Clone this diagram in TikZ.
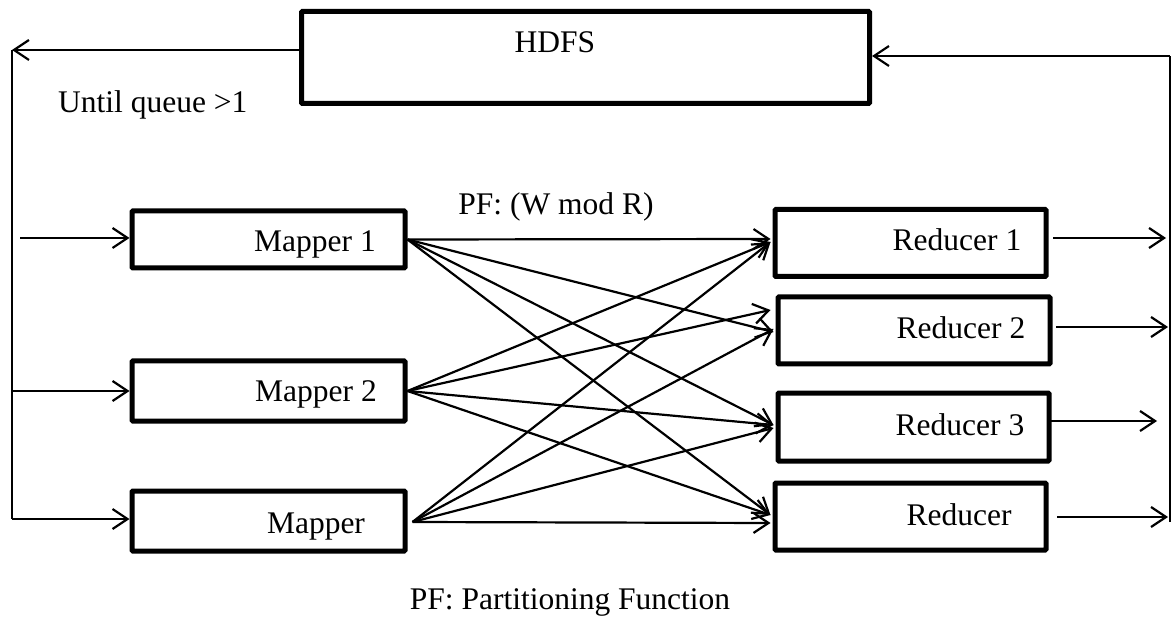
\documentclass[tikz,border=0pt]{standalone}
\usepackage{fontspec}
\setmainfont{Liberation Serif}
\usetikzlibrary{arrows.meta,calc}
\begin{document}
\begin{tikzpicture}[x=1pt,y=-1pt,
  box/.style={draw,line width=5pt,rounded corners=1pt,minimum width=#1,inner sep=0pt},
  txt/.style={font=\fontsize{31.5}{37}\selectfont,inner sep=0pt,anchor=base},
  link/.style={line width=2.2pt,-{Straight Barb[length=15pt,width=20pt,line width=2.2pt]}},
  wire/.style={line width=1.6pt}]
\useasboundingbox (0,0) rectangle (1175,617);

% storage and tasks
\node[box=568pt,minimum height=92pt] (hdfs) at (585.5,57.5) {};
\node[box=273pt,minimum height=57pt] (m1) at (268.5,239.5) {};
\node[box=273pt,minimum height=60pt] (m2) at (268.5,391) {};
\node[box=273pt,minimum height=60pt] (m3) at (268.5,521) {};
\node[box=271pt,minimum height=67pt] (r1) at (910.5,243) {};
\node[box=272pt,minimum height=67pt] (r2) at (914,330.5) {};
\node[box=271pt,minimum height=68pt] (r3) at (913.5,427) {};
\node[box=271pt,minimum height=67pt] (r4) at (910.5,516.5) {};

% labels
\node[txt] (thdfs) at (555,53) {HDFS};
\node[txt] (tm1) at (315,252) {Mapper 1};
\node[txt] (tm2) at (316,402) {Mapper 2};
\node[txt] (tm3) at (316,533) {Mapper};
\node[txt] (tr1) at (957,251) {Reducer 1};
\node[txt] (tr2) at (961,339) {Reducer 2};
\node[txt] (tr3) at (960,435) {Reducer 3};
\node[txt] (tr4) at (959,525) {Reducer};
\node[txt,anchor=base west] (tq) at (58,113) {Until queue >1};
\node[txt] (tpf) at (556,215) {PF: (W mod R)};
\node[txt] (tleg) at (570,609) {PF: Partitioning Function};

% feedback loop on the left
\coordinate (ltop) at (12,50);
\coordinate (lbot) at (12,519);
\coordinate (lin1) at (20,238);
\draw[link] (hdfs.west |- ltop) -- (ltop);
\draw[wire] (ltop) -- (lbot);
\draw[link] (lin1) -- (lin1 -| m1.west);
\draw[link] (ltop |- m2.west) -- (m2.west);
\draw[link] (lbot) -- (lbot -| m3.west);

% collection line on the right
\coordinate (rtop) at (1170,56);
\coordinate (rbot) at (1170,522);
\draw[wire] (rbot) -- (rtop);
\draw[link] (rtop) -- (rtop -| hdfs.east);
\coordinate (o1a) at (1053,238);  \coordinate (o1b) at (1166,238);
\coordinate (o2a) at (1056,327);  \coordinate (o2b) at (1168,327);
\coordinate (o3a) at (1047,421);  \coordinate (o3b) at (1157,421);
\coordinate (o4a) at (1057,517);  \coordinate (o4b) at (1168,517);
\draw[link] (o1a) -- (o1b);
\draw[link] (o2a) -- (o2b);
\draw[link] (o3a) -- (o3b);
\draw[link] (o4a) -- (o4b);

% partitioning: every mapper feeds every reducer
\draw[link] (m1.east) -- ($(r1.west)+(-2,-4)$);
\draw[link] (m1.east) -- ($(r2.west)+(-2,1.5)$);
\draw[link] (m1.east) -- ($(r3.west)+(-2,-2)$);
\draw[link] (m1.east) -- ($(r4.west)+(-2,-1.5)$);
\draw[link] (m2.east) -- ($(r1.west)+(-2,-1)$);
\draw[link] (m2.east) -- ($(r2.west)+(-5,-20.5)$);
\draw[link] (m2.east) -- ($(r3.west)+(-2,-2)$);
\draw[link] (m2.east) -- ($(r4.west)+(-2,-1.5)$);
\draw[link] ($(m3.east)+(5,1)$) -- ($(r1.west)+(-2,-1)$);
\draw[link] ($(m3.east)+(5,1)$) -- ($(r2.west)+(-2,-1.5)$);
\draw[link] ($(m3.east)+(5,1)$) -- ($(r3.west)+(-2,1)$);
\draw[link] ($(m3.east)+(5,1)$) -- ($(r4.west)+(-2,6.5)$);
\end{tikzpicture}
\end{document}
